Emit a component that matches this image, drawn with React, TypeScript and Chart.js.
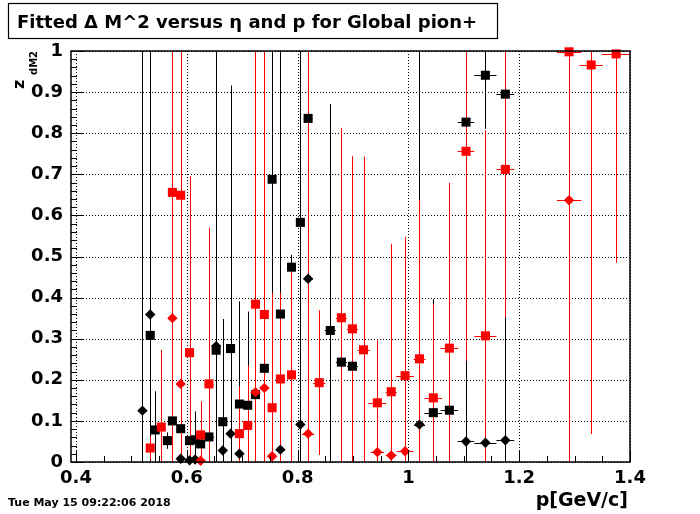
import React, { useEffect, useRef } from 'react';
import { Chart, registerables } from 'chart.js';

Chart.register(...registerables);

const TITLE = 'Fitted \u0394 M^2 versus \u03b7 and p for Global pion+';
const X_TITLE = 'p[GeV/c]';
const DATE_TEXT = 'Tue May 15 09:22:06 2018';
const X_MIN = 0.391;
const X_MAX = 1.4;
const X_MAJOR = [0.4, 0.6, 0.8, 1.0, 1.2, 1.4];
const Y_MAJOR = [0, 0.1, 0.2, 0.3, 0.4, 0.5, 0.6, 0.7, 0.8, 0.9, 1.0];

// Black squares
const blackSqP = [0.534, 0.543, 0.565, 0.574, 0.589, 0.605, 0.615, 0.625, 0.640, 0.653, 0.665, 0.679, 0.695, 0.710, 0.724, 0.740, 0.754, 0.769, 0.789, 0.805, 0.819, 0.859, 0.879, 0.899, 1.045, 1.074, 1.104, 1.139, 1.175];
const blackSqZ = [0.308, 0.078, 0.052, 0.100, 0.081, 0.052, 0.054, 0.044, 0.061, 0.272, 0.098, 0.276, 0.141, 0.138, 0.164, 0.228, 0.688, 0.360, 0.474, 0.583, 0.836, 0.320, 0.243, 0.233, 0.120, 0.126, 0.827, 0.941, 0.895];
const blackSqEz = [0.72, 0.094, 0.02, 0.05, 0.05, 0.03, 0.069, 0.02, 0.04, 0.75, 0.25, 0.64, 0.25, 0.228, 0.1, 0.15, 0.4, 0.7, 0.03, 0.6, 0.05, 0.551, 0.1, 0.1, 0.276, 0.1, 0.1, 0.13, 0.05];
const blackSqEp = [0.006, 0.006, 0.006, 0.006, 0.006, 0.006, 0.006, 0.006, 0.009, 0.006, 0.006, 0.006, 0.006, 0.006, 0.006, 0.008, 0.006, 0.008, 0.008, 0.006, 0.008, 0.01, 0.01, 0.01, 0.016, 0.016, 0.015, 0.02, 0.016];

// Black diamonds
const blackDiP = [0.520, 0.534, 0.589, 0.605, 0.615, 0.653, 0.665, 0.679, 0.695, 0.769, 0.805, 0.819, 1.020, 1.104, 1.139, 1.175];
const blackDiZ = [0.125, 0.359, 0.008, 0.004, 0.006, 0.282, 0.028, 0.069, 0.020, 0.030, 0.091, 0.446, 0.091, 0.050, 0.047, 0.053];
const blackDiEz = [0.9, 0.1, 0.01, 0.01, 0.01, 0.1, 0.02, 0.03, 0.02, 0.02, 0.1, 0.05, 0.95, 0.2, 0.05, 0.3];
const blackDiEp = [0.006, 0.006, 0.006, 0.006, 0.006, 0.006, 0.006, 0.006, 0.006, 0.008, 0.006, 0.008, 0.01, 0.015, 0.02, 0.016];

// Red squares
const redSqP = [0.534, 0.554, 0.574, 0.589, 0.605, 0.625, 0.640, 0.695, 0.710, 0.724, 0.740, 0.754, 0.769, 0.789, 0.839, 0.879, 0.899, 0.919, 0.944, 0.969, 0.994, 1.020, 1.045, 1.074, 1.104, 1.139, 1.175, 1.290, 1.330, 1.375];
const redSqZ = [0.034, 0.085, 0.656, 0.649, 0.266, 0.066, 0.190, 0.069, 0.089, 0.384, 0.359, 0.132, 0.202, 0.212, 0.193, 0.351, 0.324, 0.273, 0.144, 0.171, 0.210, 0.251, 0.156, 0.277, 0.756, 0.307, 0.712, 0.998, 0.966, 0.993];
const redSqEz = [0.028, 0.188, 0.7, 0.7, 0.43, 0.082, 0.38, 0.115, 0.146, 0.7, 0.7, 0.28, 0.21, 0.264, 0.176, 0.462, 0.42, 0.47, 0.152, 0.36, 0.338, 0.386, 0.228, 0.402, 0.51, 0.5, 0.36, 0.1, 0.898, 0.508];
const redSqEp = [0.006, 0.006, 0.006, 0.008, 0.006, 0.008, 0.008, 0.006, 0.008, 0.006, 0.006, 0.006, 0.008, 0.008, 0.011, 0.01, 0.01, 0.011, 0.016, 0.01, 0.016, 0.011, 0.016, 0.016, 0.015, 0.02, 0.016, 0.022, 0.021, 0.026];

// Red diamonds
const redDiP = [0.574, 0.589, 0.625, 0.724, 0.740, 0.754, 0.819, 0.944, 0.969, 0.994, 1.290];
const redDiZ = [0.350, 0.190, 0.003, 0.170, 0.180, 0.014, 0.069, 0.024, 0.016, 0.026, 0.637];
const redDiEz = [0.1, 0.1, 0.01, 0.1, 0.1, 0.01, 0.95, 0.02, 0.02, 0.02, 0.7];
const redDiEp = [0.006, 0.008, 0.006, 0.006, 0.008, 0.008, 0.011, 0.012, 0.01, 0.015, 0.022];

const FONT = "'DejaVu Sans', sans-serif";

type Series = { color: string; style: string; radius: number; p: number[]; z: number[]; ez: number[]; ep: number[] };

export default function App() {
  const ref = useRef<HTMLCanvasElement>(null);

  useEffect(() => {
    if (!ref.current) return;
    const blackSq: Series = { color: '#000000', style: 'rect', radius: 6.4, p: blackSqP, z: blackSqZ, ez: blackSqEz, ep: blackSqEp };
    const blackDi: Series = { color: '#000000', style: 'rectRot', radius: 5.2, p: blackDiP, z: blackDiZ, ez: blackDiEz, ep: blackDiEp };
    const redSq: Series = { color: '#ff0000', style: 'rect', radius: 6.4, p: redSqP, z: redSqZ, ez: redSqEz, ep: redSqEp };
    const redDi: Series = { color: '#ff0000', style: 'rectRot', radius: 5.2, p: redDiP, z: redDiZ, ez: redDiEz, ep: redDiEp };
    // drawn first = last in list (Chart.js draws datasets in reverse order)
    const drawList = [redSq, redDi, blackSq, blackDi];
    const errOrder = [blackDi, blackSq, redSq, redDi];

    const mkData = (s: Series) => s.p.map((v, i) => ({ x: v, y: s.z[i] }));

    const decor = {
      id: 'decor',
      beforeDatasetsDraw(chart: any) {
        const { ctx, chartArea: a, scales } = chart;
        const xs = scales.x, ys = scales.y;
        ctx.save();
        // grid
        ctx.strokeStyle = '#000';
        ctx.lineWidth = 1;
        ctx.setLineDash([1, 2]);
        X_MAJOR.forEach((v) => {
          const px = Math.round(xs.getPixelForValue(v)) + 0.5;
          ctx.beginPath(); ctx.moveTo(px, a.top); ctx.lineTo(px, a.bottom); ctx.stroke();
        });
        Y_MAJOR.forEach((v) => {
          const py = Math.round(ys.getPixelForValue(v)) + 0.5;
          ctx.beginPath(); ctx.moveTo(a.left, py); ctx.lineTo(a.right, py); ctx.stroke();
        });
        ctx.setLineDash([]);
        // error bars
        ctx.beginPath();
        ctx.rect(a.left, a.top, a.right - a.left, a.bottom - a.top);
        ctx.clip();
        errOrder.forEach((s) => {
          ctx.strokeStyle = s.color;
          ctx.lineWidth = 1;
          s.p.forEach((p, i) => {
            const cx = Math.round(xs.getPixelForValue(p)) + 0.5;
            const cy = Math.round(ys.getPixelForValue(s.z[i])) + 0.5;
            const y1 = ys.getPixelForValue(s.z[i] + s.ez[i]);
            const y2 = ys.getPixelForValue(s.z[i] - s.ez[i]);
            const x1 = xs.getPixelForValue(p - s.ep[i]);
            const x2 = xs.getPixelForValue(p + s.ep[i]);
            ctx.beginPath();
            ctx.moveTo(cx, y1); ctx.lineTo(cx, y2);
            ctx.moveTo(x1, cy); ctx.lineTo(x2, cy);
            ctx.stroke();
          });
        });
        ctx.restore();
      },
      afterDatasetsDraw(chart: any) {
        const { ctx, chartArea: a, scales } = chart;
        const xs = scales.x, ys = scales.y;
        ctx.save();
        ctx.strokeStyle = '#000';
        ctx.lineWidth = 1;
        // ticks
        ctx.beginPath();
        for (let k = 0; k <= 20; k++) {
          const v = 0.4 + k * 0.05;
          const px = Math.round(xs.getPixelForValue(v)) + 0.5;
          const len = k % 4 === 0 ? 12 : 6;
          ctx.moveTo(px, a.bottom); ctx.lineTo(px, a.bottom - len);
        }
        for (let k = 0; k <= 50; k++) {
          const v = k * 0.02;
          const py = Math.round(ys.getPixelForValue(v)) + 0.5;
          const len = k % 5 === 0 ? 12 : 6;
          ctx.moveTo(a.left, py); ctx.lineTo(a.left + len, py);
        }
        ctx.stroke();
        // frame
        ctx.lineWidth = 1.5;
        ctx.strokeRect(a.left, a.top, a.right - a.left, a.bottom - a.top);
        // title box
        ctx.fillStyle = '#fff';
        ctx.fillRect(8, 3, 489, 35);
        ctx.lineWidth = 1.2;
        ctx.strokeRect(8.5, 3.5, 489, 35);
        ctx.fillStyle = '#000';
        ctx.font = `bold 18px ${FONT}`;
        ctx.textAlign = 'left';
        ctx.textBaseline = 'alphabetic';
        ctx.fillText(TITLE, 17, 28);
        // x title
        ctx.font = `bold 19px ${FONT}`;
        ctx.textAlign = 'right';
        ctx.fillText(X_TITLE, 628, 506);
        // date
        ctx.font = `bold 11px ${FONT}`;
        ctx.textAlign = 'left';
        ctx.fillText(DATE_TEXT, 8, 506);
        // y title (rotated)
        ctx.save();
        ctx.translate(24, 89);
        ctx.rotate(-Math.PI / 2);
        ctx.font = `bold 16px ${FONT}`;
        ctx.textAlign = 'left';
        ctx.fillText('z', 0, 0);
        ctx.font = `bold 10px ${FONT}`;
        ctx.fillText('dM2', 14, 13);
        ctx.restore();
        ctx.restore();
      },
    };

    const fmt = (v: any) => String(+Number(v).toFixed(2));

    const chart = new Chart(ref.current, {
      type: 'scatter',
      data: {
        datasets: drawList.map((s) => ({
          data: mkData(s),
          pointStyle: s.style as any,
          pointRadius: s.radius,
          pointHoverRadius: s.radius,
          pointBackgroundColor: s.color,
          pointBorderColor: s.color,
          pointBorderWidth: 0,
          showLine: false,
          clip: false as any,
        })),
      },
      options: {
        animation: false,
        responsive: false,
        devicePixelRatio: 1,
        events: [],
        layout: { padding: { top: 51, right: 70, left: 0, bottom: 0 } },
        plugins: { legend: { display: false }, tooltip: { enabled: false }, title: { display: false } },
        scales: {
          x: {
            type: 'linear',
            min: X_MIN,
            max: X_MAX,
            afterFit: (s: any) => { s.height = 52; },
            afterBuildTicks: (s: any) => { s.ticks = X_MAJOR.map((v) => ({ value: v })); },
            grid: { display: false, drawTicks: false },
            border: { display: false },
            ticks: { color: '#000', font: { family: FONT, size: 18, weight: 'bold' }, padding: 6, callback: fmt, maxRotation: 0, autoSkip: false },
          },
          y: {
            type: 'linear',
            min: 0,
            max: 1,
            afterFit: (s: any) => { s.width = 71; },
            afterBuildTicks: (s: any) => { s.ticks = Y_MAJOR.map((v) => ({ value: v })); },
            grid: { display: false, drawTicks: false },
            border: { display: false },
            ticks: { color: '#000', font: { family: FONT, size: 18, weight: 'bold' }, padding: 8, callback: fmt, autoSkip: false },
          },
        },
      },
      plugins: [decor],
    } as any);
    return () => chart.destroy();
  }, []);

  return (
    <div style={{ position: 'fixed', left: 0, top: 0, width: 700, height: 514, background: '#fff' }}>
      <canvas ref={ref} width={700} height={514} style={{ width: 700, height: 514, display: 'block' }} />
    </div>
  );
}
